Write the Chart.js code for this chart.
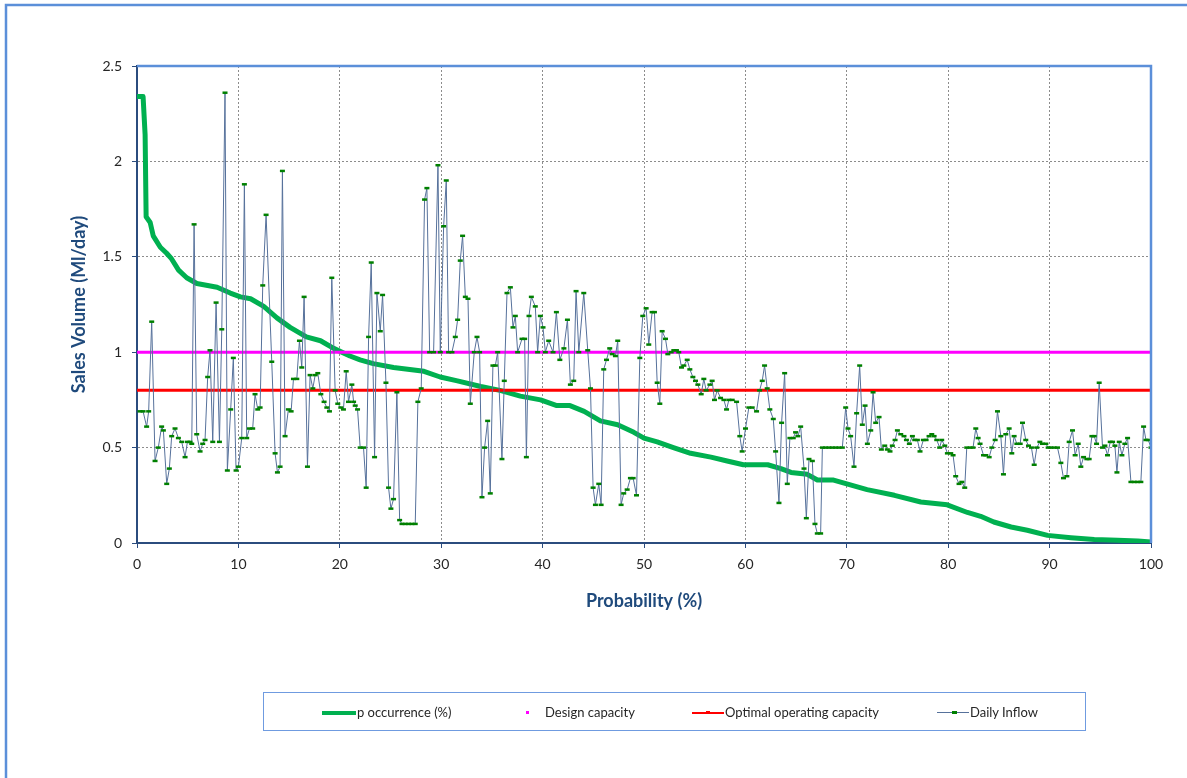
<!DOCTYPE html>
<html>
<head>
<meta charset="utf-8">
<title>Sales Volume vs Probability</title>
<script src="https://cdn.jsdelivr.net/npm/chart.js@4.4.1/dist/chart.umd.min.js"></script>
<style>
  html, body { margin: 0; padding: 0; background: #ffffff; }
  #wrap { position: relative; width: 1187px; height: 778px; overflow: hidden; }
  #chart { position: absolute; left: 0; top: 0; }
  .legend-box { position: absolute; left: 263px; top: 692px; width: 823px; height: 39px;
                border: 1.5px solid #6F9BE0; box-sizing: border-box; }
  .lg { position: absolute; font-family: Lato, "Open Sans", sans-serif; font-size: 13px;
        color: #262626; line-height: 15px; top: 705px; white-space: nowrap; }
  .sw { position: absolute; }
</style>
</head>
<body>
<div id="wrap">
  <canvas id="chart" width="1187" height="778"></canvas>
  <div class="legend-box"></div>
  <div class="sw" style="left:322px;top:711px;width:34px;height:4px;background:#00B050;"></div>
  <div class="lg" style="left:357px;">p occurrence (%)</div>
  <div class="sw" style="left:526px;top:711px;width:3px;height:3px;background:#FF00FF;"></div>
  <div class="lg" style="left:545px;">Design capacity</div>
  <div class="sw" style="left:692px;top:712px;width:32px;height:1.5px;background:#FF0000;"></div>
  <div class="sw" style="left:706px;top:711px;width:4px;height:3px;background:#FF0000;"></div>
  <div class="lg" style="left:725px;">Optimal operating capacity</div>
  <div class="sw" style="left:937px;top:712px;width:32px;height:1.2px;background:#56719B;"></div>
  <div class="sw" style="left:952px;top:711px;width:5px;height:3px;background:#008000;"></div>
  <div class="lg" style="left:970px;">Daily Inflow</div>
</div>
<script>
// Axis ticks
const xTicks = [0, 10, 20, 30, 40, 50, 60, 70, 80, 90, 100];
const yTicks = ['0', '0.5', '1', '1.5', '2', '2.5'];

// Capacity levels (Ml/day)
const designCapacity = 1.0;
const optimalCapacity = 0.8;

// Daily inflow: probability (%) and volume (Ml/day)
const inflowProbability = [
  0.3, 0.6, 0.95, 1.15, 1.45, 1.78, 2.1, 2.43, 2.6, 2.93, 3.19, 3.42, 3.75, 4.08, 4.41, 4.74, 4.97, 5.23, 5.4, 5.63,
  5.89, 6.22, 6.48, 6.71, 6.97, 7.2, 7.47, 7.8, 8.13, 8.36, 8.68, 8.91, 9.24, 9.5, 9.77, 10.0, 10.33, 10.59, 10.82, 11.09,
  11.41, 11.64, 11.91, 12.14, 12.4, 12.73, 13.29, 13.62, 13.85, 14.11, 14.34, 14.6, 14.93, 15.2, 15.43, 15.76, 16.02, 16.25, 16.48, 16.81,
  17.07, 17.34, 17.57, 17.83, 18.13, 18.45, 18.72, 18.98, 19.21, 19.54, 19.8, 20.1, 20.36, 20.63, 20.86, 21.19, 21.36, 21.52, 21.75, 22.01,
  22.34, 22.6, 22.84, 23.1, 23.43, 23.66, 23.99, 24.22, 24.55, 24.81, 25.04, 25.3, 25.63, 25.9, 26.13, 26.45, 26.78, 27.11, 27.44, 27.7,
  28.03, 28.36, 28.59, 28.86, 29.25, 29.68, 29.91, 30.24, 30.5, 30.73, 31.06, 31.39, 31.62, 31.88, 32.11, 32.38, 32.64, 32.87, 33.26, 33.53,
  33.79, 34.02, 34.28, 34.58, 34.84, 35.1, 35.34, 35.57, 35.99, 36.22, 36.49, 36.82, 37.08, 37.31, 37.54, 37.97, 38.23, 38.4, 38.66, 38.89,
  39.28, 39.51, 39.78, 40.04, 40.27, 40.6, 41.03, 41.36, 41.7, 42.1, 42.45, 42.74, 43.07, 43.3, 43.57, 44.06, 44.45, 44.72, 44.98, 45.21,
  45.54, 45.77, 46.03, 46.3, 46.62, 46.86, 47.18, 47.41, 47.74, 48.0, 48.34, 48.66, 48.93, 49.26, 49.59, 49.88, 50.21, 50.47, 50.8, 51.03,
  51.3, 51.56, 51.79, 52.12, 52.35, 52.68, 52.94, 53.2, 53.43, 53.7, 53.93, 54.26, 54.52, 54.82, 55.08, 55.31, 55.64, 55.9, 56.13, 56.5,
  56.72, 56.95, 57.22, 57.55, 57.88, 58.14, 58.37, 58.7, 59.13, 59.45, 59.68, 60.01, 60.34, 60.67, 61.1, 61.4, 61.66, 61.89, 62.15, 62.41,
  62.75, 62.98, 63.31, 63.57, 63.87, 64.13, 64.39, 64.72, 64.95, 65.18, 65.45, 65.78, 66.01, 66.27, 66.6, 66.86, 67.09, 67.42, 67.59, 67.91,
  68.24, 68.57, 68.9, 69.23, 69.56, 69.89, 70.12, 70.38, 70.71, 70.97, 71.27, 71.53, 71.8, 72.03, 72.36, 72.59, 72.85, 73.18, 73.41, 73.74,
  74.0, 74.26, 74.49, 74.76, 74.99, 75.32, 75.64, 75.88, 76.17, 76.47, 76.7, 76.96, 77.22, 77.55, 77.82, 78.11, 78.38, 78.61, 78.87, 79.16,
  79.36, 79.66, 79.92, 80.25, 80.48, 80.74, 81.07, 81.34, 81.63, 81.83, 82.16, 82.45, 82.72, 82.95, 83.14, 83.48, 83.71, 84.04, 84.3, 84.63,
  84.86, 85.19, 85.45, 85.68, 86.01, 86.27, 86.5, 86.77, 87.1, 87.33, 87.65, 87.92, 88.21, 88.48, 88.74, 89.04, 89.3, 89.63, 89.86, 90.12,
  90.45, 90.78, 91.11, 91.37, 91.7, 91.93, 92.26, 92.52, 92.82, 93.08, 93.35, 93.67, 93.9, 94.17, 94.4, 94.63, 94.89, 95.22, 95.45, 95.71,
  95.98, 96.21, 96.44, 96.64, 96.87, 97.13, 97.42, 97.69, 98.02, 98.35, 98.67, 99.0, 99.27, 99.5, 99.73, 100.0
];
const dailyInflow = [
  0.69, 0.69, 0.61, 0.69, 1.16, 0.43, 0.50, 0.61, 0.59, 0.31, 0.39, 0.56, 0.60, 0.55, 0.53, 0.45, 0.53, 0.53, 0.52, 1.67,
  0.57, 0.48, 0.52, 0.54, 0.87, 1.01, 0.53, 1.26, 0.53, 1.12, 2.36, 0.38, 0.70, 0.97, 0.38, 0.40, 0.55, 1.88, 0.55, 0.60,
  0.60, 0.78, 0.70, 0.71, 1.35, 1.72, 0.95, 0.47, 0.37, 0.40, 1.95, 0.56, 0.70, 0.69, 0.86, 0.86, 1.06, 0.92, 1.29, 0.40,
  0.88, 0.81, 0.88, 0.89, 0.78, 0.74, 0.71, 0.69, 1.39, 0.80, 0.73, 0.71, 0.70, 0.90, 0.74, 0.83, 0.74, 0.72, 0.70, 0.50,
  0.50, 0.29, 1.08, 1.47, 0.45, 1.31, 1.11, 1.30, 0.84, 0.29, 0.18, 0.23, 0.79, 0.12, 0.10, 0.10, 0.10, 0.10, 0.10, 0.74,
  0.81, 1.80, 1.86, 1.00, 1.00, 1.98, 1.00, 1.66, 1.90, 1.00, 1.00, 1.08, 1.17, 1.48, 1.61, 1.29, 1.28, 0.73, 1.00, 1.08,
  1.00, 0.24, 0.50, 0.64, 0.26, 0.93, 0.93, 1.00, 0.44, 0.85, 1.31, 1.34, 1.13, 1.19, 1.00, 1.07, 1.07, 0.45, 1.19, 1.29,
  1.24, 1.00, 1.19, 1.13, 1.00, 1.06, 1.00, 1.21, 0.96, 1.02, 1.17, 0.83, 0.85, 1.32, 1.00, 1.31, 1.01, 0.81, 0.29, 0.20,
  0.31, 0.20, 0.91, 0.96, 1.02, 0.99, 0.98, 1.06, 0.20, 0.26, 0.28, 0.34, 0.34, 0.25, 0.97, 1.19, 1.23, 1.04, 1.21, 1.21,
  0.84, 0.73, 1.11, 1.07, 0.99, 1.00, 1.01, 1.01, 1.00, 0.92, 0.93, 0.96, 0.91, 0.87, 0.85, 0.83, 0.78, 0.86, 0.80, 0.83,
  0.85, 0.75, 0.80, 0.76, 0.75, 0.70, 0.75, 0.75, 0.74, 0.56, 0.48, 0.60, 0.71, 0.71, 0.69, 0.80, 0.85, 0.93, 0.81, 0.70,
  0.65, 0.48, 0.21, 0.63, 0.89, 0.31, 0.55, 0.55, 0.58, 0.56, 0.61, 0.39, 0.13, 0.44, 0.43, 0.10, 0.05, 0.05, 0.50, 0.50,
  0.50, 0.50, 0.50, 0.50, 0.50, 0.71, 0.60, 0.56, 0.40, 0.68, 0.93, 0.62, 0.72, 0.52, 0.59, 0.79, 0.63, 0.66, 0.49, 0.51,
  0.49, 0.48, 0.51, 0.54, 0.59, 0.57, 0.56, 0.54, 0.52, 0.56, 0.54, 0.54, 0.48, 0.54, 0.54, 0.56, 0.57, 0.56, 0.54, 0.50,
  0.54, 0.51, 0.47, 0.47, 0.46, 0.35, 0.31, 0.32, 0.29, 0.50, 0.50, 0.50, 0.60, 0.55, 0.52, 0.46, 0.46, 0.45, 0.50, 0.54,
  0.69, 0.56, 0.36, 0.57, 0.60, 0.47, 0.56, 0.52, 0.52, 0.63, 0.54, 0.51, 0.50, 0.41, 0.50, 0.53, 0.52, 0.52, 0.50, 0.50,
  0.50, 0.50, 0.42, 0.34, 0.35, 0.53, 0.59, 0.46, 0.52, 0.40, 0.45, 0.44, 0.44, 0.56, 0.56, 0.52, 0.84, 0.50, 0.51, 0.46,
  0.53, 0.53, 0.51, 0.37, 0.53, 0.46, 0.52, 0.55, 0.32, 0.32, 0.32, 0.32, 0.61, 0.54, 0.54, 0.50
];

// Flow duration curve: probability of occurrence (%) and volume (Ml/day)
const occurrenceProbability = [
  0, 0.6, 0.8, 0.9, 1.3, 1.6, 2.3, 2.9, 3.4, 4.1, 4.9, 5.9, 7.9, 9.2, 10.2, 11.2, 12.5, 13.8, 15.1, 16.7,
  18.1, 19.4, 21.0, 22.0, 23.3, 25.3, 28.3, 29.9, 31.6, 33.9, 35.8, 37.8, 39.8, 41.4, 42.7, 44.1, 45.7, 47.4, 49.0, 50.0,
  51.3, 52.9, 54.6, 56.6, 58.2, 59.8, 62.2, 63.5, 64.5, 66.1, 67.1, 68.7, 70.0, 72.0, 74.7, 77.3, 79.9, 81.9, 83.2, 84.5,
  86.2, 87.8, 89.8, 92.1, 94.4, 96.7, 98.7, 100
];
const occurrenceVolume = [
  2.34, 2.34, 2.14, 1.71, 1.68, 1.61, 1.55, 1.52, 1.49, 1.43, 1.39, 1.36, 1.34, 1.31, 1.29, 1.28, 1.24, 1.18, 1.13, 1.08,
  1.06, 1.02, 0.98, 0.96, 0.94, 0.92, 0.90, 0.87, 0.85, 0.82, 0.80, 0.77, 0.75, 0.72, 0.72, 0.69, 0.64, 0.62, 0.58, 0.55,
  0.53, 0.50, 0.47, 0.45, 0.43, 0.41, 0.41, 0.39, 0.37, 0.36, 0.33, 0.33, 0.31, 0.28, 0.25, 0.215, 0.20, 0.16, 0.14, 0.11,
  0.084, 0.067, 0.04, 0.028, 0.018, 0.014, 0.01, 0.005
];

const toPoints = (xs, ys) => xs.map((x, i) => ({ x: x, y: ys[i] }));
const xMin = xTicks[0], xMax = xTicks[xTicks.length - 1];
const levelLine = (v) => [{ x: xMin, y: v }, { x: xMax, y: v }];

const FONT = 'Lato, "Open Sans", sans-serif';
const TITLE_COLOR = '#1F4A7C';
const AXIS_COLOR = '#2B4C7E';
const FRAME_COLOR = '#5B8FD9';

// Outer frame lines and the top/right edges of the plot area
const framePlugin = {
  id: 'frames',
  afterDatasetsDraw(chart) {
    const { ctx, chartArea: a } = chart;
    ctx.save();
    ctx.strokeStyle = FRAME_COLOR;
    ctx.lineWidth = 2.5;
    ctx.beginPath();
    ctx.moveTo(a.left, a.top);
    ctx.lineTo(a.right, a.top);
    ctx.lineTo(a.right, a.bottom);
    ctx.stroke();
    ctx.beginPath();
    ctx.moveTo(6, 778);
    ctx.lineTo(6, 5);
    ctx.lineTo(1187, 5);
    ctx.stroke();
    ctx.restore();
  }
};

new Chart(document.getElementById('chart'), {
  type: 'line',
  data: {
    datasets: [
      {
        label: 'Daily Inflow',
        data: toPoints(inflowProbability, dailyInflow),
        borderColor: '#56719B',
        borderWidth: 1,
        pointStyle: 'line',
        pointRadius: 2.5,
        pointBorderWidth: 2.5,
        pointBorderColor: '#008000',
        pointBackgroundColor: '#008000',
        tension: 0,
        order: 0
      },
      {
        label: 'Optimal operating capacity',
        data: levelLine(optimalCapacity),
        borderColor: '#FF0000',
        borderWidth: 3,
        pointRadius: 0,
        order: 1
      },
      {
        label: 'Design capacity',
        data: levelLine(designCapacity),
        borderColor: '#FF00FF',
        borderWidth: 3,
        pointRadius: 0,
        order: 2
      },
      {
        label: 'p occurrence (%)',
        data: toPoints(occurrenceProbability, occurrenceVolume),
        borderColor: '#00B050',
        borderWidth: 5,
        borderJoinStyle: 'round',
        pointRadius: 0,
        tension: 0,
        order: 3
      }
    ]
  },
  options: {
    responsive: false,
    animation: false,
    events: [],
    layout: { padding: { left: 57, top: 66, right: 36, bottom: 165 } },
    plugins: { legend: { display: false }, tooltip: { enabled: false } },
    scales: {
      x: {
        type: 'linear',
        min: xMin,
        max: xMax,
        afterFit(scale) { scale.height = 70; },
        afterBuildTicks(scale) { scale.ticks = xTicks.map(v => ({ value: v })); },
        ticks: {
          autoSkip: false,
          maxRotation: 0,
          padding: 8,
          color: '#262626',
          font: { family: FONT, size: 14 },
          callback: (v) => String(v)
        },
        grid: {
          color: '#8C8C8C',
          lineWidth: 1,
          tickLength: 5,
          tickColor: AXIS_COLOR,
          tickBorderDash: []
        },
        border: { color: AXIS_COLOR, width: 2, dash: [2, 2] },
        title: {
          display: true,
          text: 'Probability (%)',
          color: TITLE_COLOR,
          font: { family: FONT, size: 18, weight: 'bold' },
          padding: { top: 0, bottom: 1 }
        }
      },
      y: {
        type: 'linear',
        min: 0,
        max: 2.5,
        afterFit(scale) { scale.width = 80; },
        afterBuildTicks(scale) { scale.ticks = yTicks.map(t => ({ value: Number(t) })); },
        ticks: {
          padding: 10,
          color: '#262626',
          font: { family: FONT, size: 14 },
          callback: (v) => yTicks.find(t => Number(t) === v)
        },
        grid: {
          color: '#8C8C8C',
          lineWidth: 1,
          tickLength: 5,
          tickColor: AXIS_COLOR,
          tickBorderDash: []
        },
        border: { color: AXIS_COLOR, width: 2, dash: [2, 2] },
        title: {
          display: true,
          text: 'Sales Volume (Ml/day)',
          color: TITLE_COLOR,
          font: { family: FONT, size: 18, weight: 'bold' },
          padding: { top: 11, bottom: 0 }
        }
      }
    }
  },
  plugins: [framePlugin]
});
</script>
</body>
</html>
